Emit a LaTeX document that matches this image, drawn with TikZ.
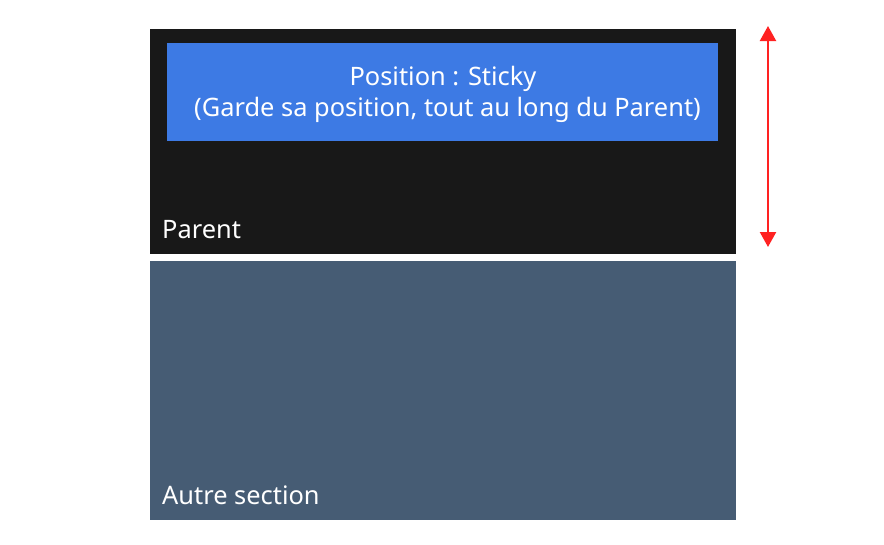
\documentclass[tikz,border=0pt]{standalone}
\usepackage{fontspec}
\setmainfont{Noto Sans}
\usetikzlibrary{arrows.meta}
\definecolor{darkbg}{HTML}{181818}
\definecolor{stickyblue}{HTML}{3D7AE4}
\definecolor{slate}{HTML}{465C74}
\definecolor{arrowred}{HTML}{FF2222}
\begin{document}
\begin{tikzpicture}[x=1pt,y=-1pt,
  panel/.style={draw=none,inner sep=0pt,anchor=north west},
  txt/.style={text=white,font=\fontsize{25.4}{30}\selectfont,inner sep=0pt},
  label/.style={txt,anchor=base west},
  span/.style={draw=arrowred,line width=2.2pt,{Triangle[width=16pt,length=15pt]}-{Triangle[width=16pt,length=15pt]}}]
\useasboundingbox (0,0) rectangle (884,544);
\node[panel,fill=darkbg,minimum width=586pt,minimum height=225pt] (parent) at (150,29) {};
\node[panel,fill=stickyblue,minimum width=551pt,minimum height=98pt] (sticky) at (167,43) {};
\node[txt,anchor=base] (stxt1) at (443,85) {Position : Sticky};
\node[txt,anchor=base] (stxt2) at (447.5,116) {(Garde sa position, tout au long du Parent)};
\node[label] (plabel) at (162,238) {Parent};
\node[panel,fill=slate,minimum width=586pt,minimum height=259pt] (autre) at (150,261) {};
\node[label] (alabel) at (162,504) {Autre section};
\coordinate (atop) at (768,26);
\coordinate (abot) at (768,247);
\draw[span] (atop) -- (abot);
\end{tikzpicture}
\end{document}
